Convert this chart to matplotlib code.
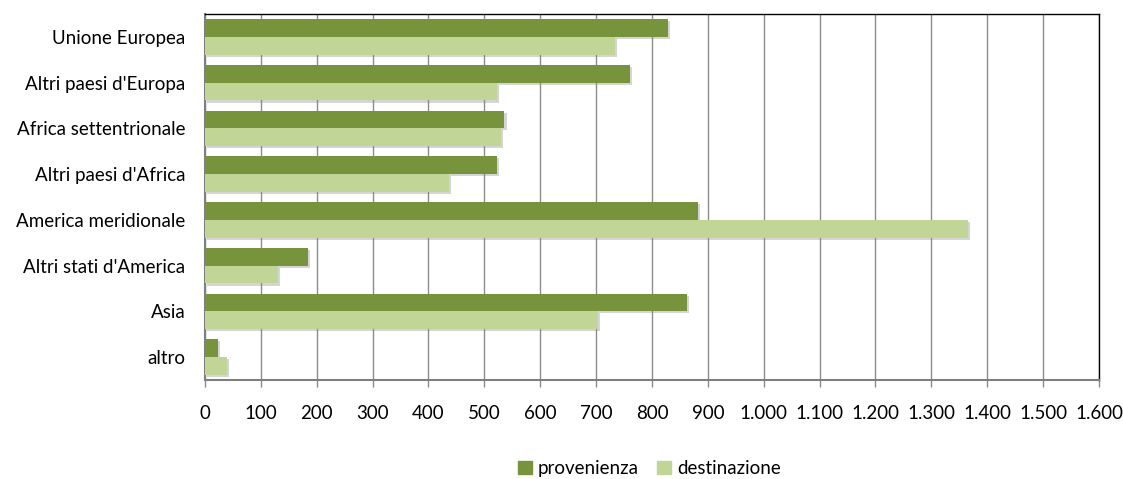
import matplotlib.pyplot as plt
import matplotlib.patheffects as pe
import matplotlib.patches as mpatches
import numpy as np
from matplotlib.ticker import FuncFormatter, MultipleLocator

categories = ["Unione Europea", "Altri paesi d'Europa", "Africa settentrionale",
              "Altri paesi d'Africa", "America meridionale", "Altri stati d'America",
              "Asia", "altro"]
provenienza = [829, 761, 536, 522, 883, 185, 862, 23]
destinazione = [734, 522, 529, 436, 1365, 131, 704, 39]

DARK = "#77933C"
LIGHT = "#C0D596"

plt.rcParams["font.family"] = ["Lato", "DejaVu Sans"]

fig = plt.figure(figsize=(11.23, 4.79), dpi=100)
ax = fig.add_axes([0.1825, 0.2067, 0.7961, 0.7641])

y = np.arange(len(categories))
h = 0.39
b1 = ax.barh(y - h / 2, provenienza, height=h, color=DARK, zorder=3)
b2 = ax.barh(y + h / 2, destinazione, height=h, color=LIGHT, zorder=3)
for bar in list(b1) + list(b2):
    bar.set_path_effects([pe.SimplePatchShadow(offset=(1.5, -1.5), shadow_rgbFace="#888888", alpha=0.35), pe.Normal()])

ax.set_ylim(len(categories) - 0.5, -0.5)
ax.set_xlim(0, 1600)
ax.xaxis.set_major_locator(MultipleLocator(100))
ax.xaxis.set_major_formatter(FuncFormatter(lambda v, p: f"{int(v):,}".replace(",", ".")))
ax.set_yticks(y)
ax.set_yticklabels(categories)

ax.grid(axis="x", color="#8C8C8C", linewidth=1.0, zorder=0)
ax.tick_params(axis="x", length=5, width=1.0, color="#8C8C8C", pad=13, labelsize=13.5)
ax.tick_params(axis="y", length=0, pad=14, labelsize=13.5)

for side in ["top", "right"]:
    ax.spines[side].set_color("black")
    ax.spines[side].set_linewidth(1.0)
ax.spines["left"].set_color("#7F7F7F")
ax.spines["bottom"].set_color("#7F7F7F")
ax.spines["left"].set_linewidth(1.5)
ax.spines["bottom"].set_linewidth(1.5)

handles = [mpatches.Patch(color=DARK), mpatches.Patch(color=LIGHT)]
fig.legend(handles=handles, labels=["provenienza", "destinazione"], loc="center",
           bbox_to_anchor=(0.578, 0.022), ncol=2, frameon=False, fontsize=13.5,
           handlelength=0.75, handleheight=0.75, handletextpad=0.3, columnspacing=1.0)

fig.savefig("out.png", dpi=100)
